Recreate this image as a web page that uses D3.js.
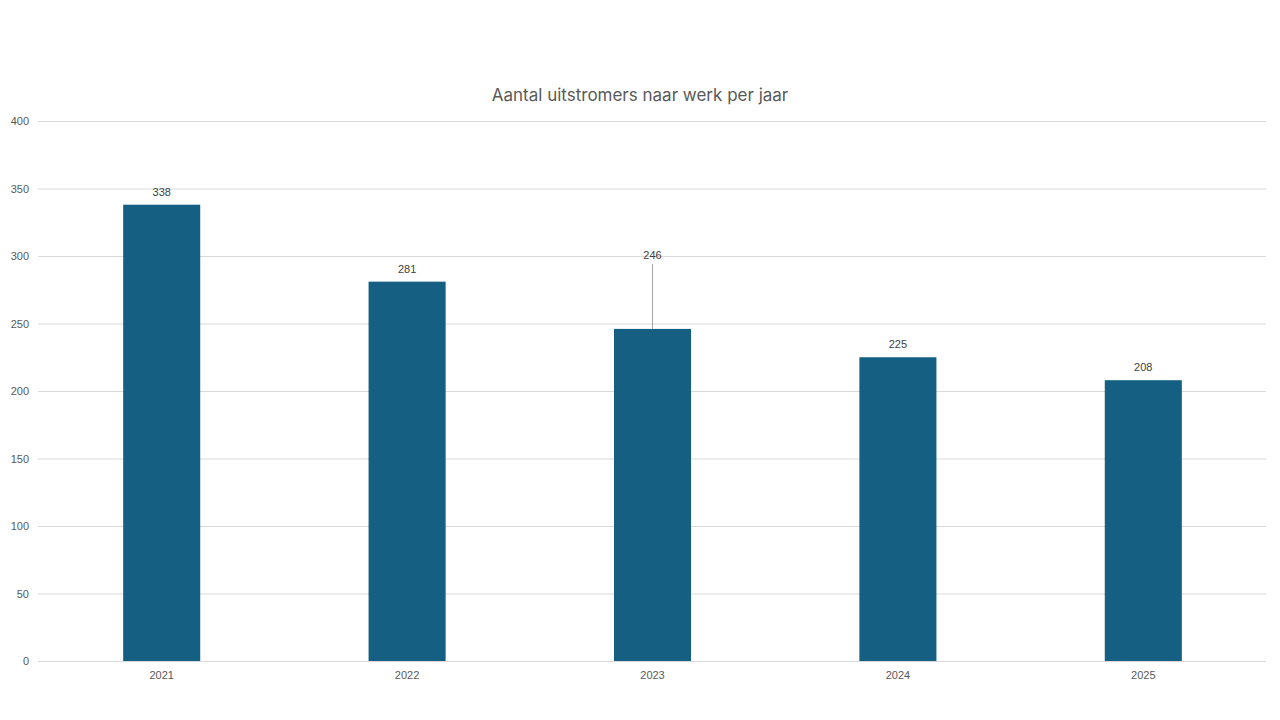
<!DOCTYPE html>
<html>
<head>
<meta charset="utf-8">
<script src="https://d3js.org/d3.v7.min.js"></script>
<style>
  body { margin: 0; background: #ffffff; }
</style>
</head>
<body>
<div id="chart"></div>
<script>
// Data
const years = ["2021", "2022", "2023", "2024", "2025"];
const values = [338, 281, 246, 225, 208];
const yTicks = [0, 50, 100, 150, 200, 250, 300, 350, 400];
const title = "Aantal uitstromers naar werk per jaar";

const data = years.map((year, i) => ({ year: year, value: values[i] }));

const width = 1280;
const height = 720;
const margin = { top: 121, right: 14, bottom: 59, left: 39 };

const svg = d3.select("#chart")
    .append("svg")
    .attr("width", width)
    .attr("height", height);

const x = d3.scaleBand()
    .domain(years)
    .range([margin.left, width - margin.right])
    .paddingInner(0.686)
    .paddingOuter(0.343);

const y = d3.scaleLinear()
    .domain([0, 400])
    .range([height - margin.bottom, margin.top]);

// gridlines
svg.append("g")
    .selectAll("line")
    .data(yTicks)
    .enter()
    .append("line")
    .attr("x1", margin.left - 1)
    .attr("x2", width - margin.right)
    .attr("y1", d => y(d) + 0.5)
    .attr("y2", d => y(d) + 0.5)
    .attr("stroke", "#d9d9d9")
    .attr("stroke-width", 1);

// y axis labels
const yAxis = d3.axisLeft(y).tickValues(yTicks).tickSize(0).tickPadding(10);
svg.append("g")
    .attr("transform", `translate(${margin.left}, 0)`)
    .attr("color", "#595959")
    .call(yAxis)
    .call(g => g.select(".domain").remove())
    .selectAll("text")
    .attr("fill", "#595959")
    .attr("font-family", "Liberation Sans, Arial, sans-serif")
    .attr("font-size", "11px");

// x axis labels
const xAxis = d3.axisBottom(x).tickSize(0).tickPadding(10);
svg.append("g")
    .attr("transform", `translate(0, ${height - margin.bottom})`)
    .attr("color", "#595959")
    .call(xAxis)
    .call(g => g.select(".domain").remove())
    .selectAll("text")
    .attr("fill", "#595959")
    .attr("font-family", "Liberation Sans, Arial, sans-serif")
    .attr("font-size", "11px");

// bars
svg.append("g")
    .selectAll("rect")
    .data(data)
    .enter()
    .append("rect")
    .attr("x", d => x(d.year))
    .attr("y", d => y(d.value))
    .attr("width", x.bandwidth())
    .attr("height", d => y(0) - y(d.value))
    .attr("fill", "#156082");

// the 2023 label was dragged up in the original, with a leader line
const lift = d => d.year === "2023" ? 61 : 0;
const cx = d => x(d.year) + x.bandwidth() / 2;

svg.append("g")
    .selectAll("line")
    .data(data.filter(d => lift(d) > 0))
    .enter()
    .append("line")
    .attr("x1", d => Math.round(cx(d)) + 0.5)
    .attr("x2", d => Math.round(cx(d)) + 0.5)
    .attr("y1", d => y(d.value) - lift(d) - 4)
    .attr("y2", d => y(d.value))
    .attr("stroke", "#a6a6a6")
    .attr("stroke-width", 1);

svg.append("g")
    .selectAll("text")
    .data(data)
    .enter()
    .append("text")
    .attr("x", d => cx(d))
    .attr("y", d => y(d.value) - 9 - lift(d))
    .attr("text-anchor", "middle")
    .attr("fill", "#404040")
    .attr("font-family", "Liberation Sans, Arial, sans-serif")
    .attr("font-size", "11px")
    .text(d => d.value);

// title
svg.append("text")
    .attr("x", 640)
    .attr("y", 101)
    .attr("text-anchor", "middle")
    .attr("fill", "#595959")
    .attr("font-family", "Inter, Open Sans, sans-serif")
    .attr("font-size", "17px")
    .text(title);
</script>
</body>
</html>
